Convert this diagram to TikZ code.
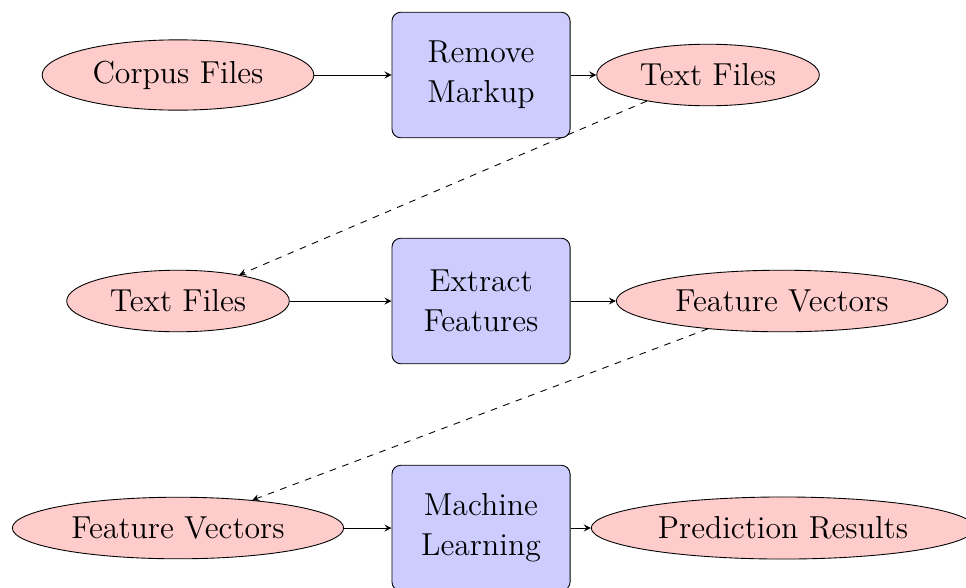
\documentclass[tikz,border=0pt]{standalone}
\usepackage{tikz}
\usetikzlibrary{shapes.geometric,arrows}

\begin{document}
\begin{tikzpicture}[x=0.4533pt,y=-0.4533pt,
        datafile/.style={ellipse,draw,fill=red!20,font=\Large,inner sep=4.8pt},
        procbox/.style={rectangle,draw,fill=blue!20,rounded corners,
            text width=2.5cm,align=center,minimum height=2cm,font=\Large,
            inner sep=4.8pt},
        flow/.style={->,>=stealth},
        handover/.style={->,>=stealth,dashed}]
        \useasboundingbox (0,0) rectangle (966,587);
        % first stage
        \node[datafile] (corpus) at (178,75) {Corpus Files};
        \node[procbox] (remove) at (481,75) {Remove Markup};
        \node[datafile] (textA) at (708,75) {Text Files};
        % second stage
        \node[datafile] (textB) at (178,301) {Text Files};
        \node[procbox] (extract) at (481,301) {Extract Features};
        \node[datafile] (featA) at (782,301) {Feature Vectors};
        % third stage
        \node[datafile] (featB) at (178,528) {Feature Vectors};
        \node[procbox] (learn) at (481,528) {Machine Learning};
        \node[datafile] (pred) at (783,528) {Prediction Results};
        \draw[flow] (corpus) -- (remove);
        \draw[flow] (remove) -- (textA);
        \draw[flow] (textB) -- (extract);
        \draw[flow] (extract) -- (featA);
        \draw[flow] (featB) -- (learn);
        \draw[flow] (learn) -- (pred);
        \draw[handover] (textA) -- (textB);
        \draw[handover] (featA) -- (featB);
    \end{tikzpicture}
\end{document}
